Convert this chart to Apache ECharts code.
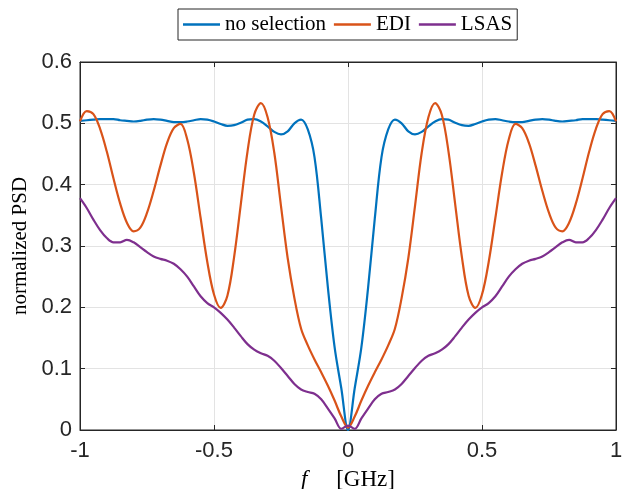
<!DOCTYPE html>
<html>
<head>
<meta charset="utf-8">
<script src="https://cdn.jsdelivr.net/npm/echarts@6/dist/echarts.min.js"></script>
<style>html,body{margin:0;padding:0;background:#fff}#c{width:636px;height:489px}</style>
</head>
<body>
<div id="c"></div>
<script>
const freq = [-1,-0.975,-0.95,-0.925,-0.9,-0.875,-0.85,-0.825,-0.8,-0.775,-0.75,-0.725,-0.7,-0.675,-0.65,-0.625,-0.6,-0.575,-0.55,-0.525,-0.5,-0.475,-0.45,-0.425,-0.4,-0.375,-0.35,-0.325,-0.3,-0.275,-0.25,-0.225,-0.2,-0.175,-0.15,-0.125,-0.1,-0.075,-0.05,-0.025,0,
0.025,0.05,0.075,0.1,0.125,0.15,0.175,0.2,0.225,0.25,0.275,0.3,0.325,0.35,0.375,0.4,0.425,0.45,0.475,0.5,0.525,0.55,0.575,0.6,0.625,0.65,0.675,0.7,0.725,0.75,0.775,0.8,0.825,0.85,0.875,0.9,0.925,0.95,0.975,1];

const noSelection = [0.504,0.505,0.506,0.507,0.507,0.507,0.505,0.504,0.503,0.504,0.506,0.507,0.506,0.504,0.502,0.502,0.503,0.505,0.507,0.506,0.503,0.499,0.496,0.497,0.501,0.506,0.507,0.503,0.495,0.486,0.482,0.487,0.500,0.506,0.490,0.445,0.345,0.232,0.135,0.068,0.000,
0.068,0.135,0.232,0.345,0.445,0.490,0.506,0.500,0.487,0.482,0.486,0.495,0.503,0.507,0.506,0.501,0.497,0.496,0.499,0.503,0.506,0.507,0.505,0.503,0.502,0.502,0.504,0.506,0.507,0.506,0.504,0.503,0.504,0.505,0.507,0.507,0.507,0.506,0.505,0.504];

const edi = [0.503,0.520,0.515,0.491,0.454,0.410,0.369,0.338,0.324,0.330,0.354,0.390,0.431,0.468,0.492,0.499,0.474,0.419,0.346,0.274,0.221,0.199,0.219,0.282,0.368,0.454,0.514,0.533,0.510,0.452,0.365,0.280,0.215,0.165,0.138,0.115,0.094,0.072,0.048,0.022,0.004,
0.022,0.048,0.072,0.094,0.115,0.138,0.165,0.215,0.280,0.365,0.452,0.510,0.533,0.514,0.454,0.368,0.282,0.219,0.199,0.221,0.274,0.346,0.419,0.474,0.499,0.492,0.468,0.431,0.390,0.354,0.330,0.324,0.338,0.369,0.410,0.454,0.491,0.515,0.520,0.503];

const lsas = [0.378,0.362,0.343,0.326,0.313,0.306,0.306,0.310,0.306,0.298,0.290,0.283,0.279,0.276,0.271,0.262,0.250,0.234,0.218,0.207,0.200,0.191,0.180,0.167,0.153,0.140,0.131,0.125,0.121,0.113,0.101,0.088,0.075,0.066,0.062,0.059,0.050,0.035,0.019,0.002,0.007,
0.002,0.019,0.035,0.050,0.059,0.062,0.066,0.075,0.088,0.101,0.113,0.121,0.125,0.131,0.140,0.153,0.167,0.180,0.191,0.200,0.207,0.218,0.234,0.250,0.262,0.271,0.276,0.279,0.283,0.290,0.298,0.306,0.310,0.306,0.306,0.313,0.326,0.343,0.362,0.378];

const seriesNames = ['no selection','EDI','LSAS'];
const xTicks = [-1,-0.5,0,0.5,1];
const yTicks = [0,0.1,0.2,0.3,0.4,0.5,0.6];

const pairs = ys => freq.map((f,i)=>[f,ys[i]]);
const colors = ['#0072BD','#D95319','#7E2F8E'];
const axisColor = '#262626';
const labelFont = {fontFamily:'Liberation Sans, Arial, sans-serif', fontSize:22, color:axisColor};

const chart = echarts.init(document.getElementById('c'), null, {renderer:'canvas'});
chart.setOption({
  backgroundColor:'#fff',
  animation:false,
  color:colors,
  legend:{
    top:9, left:178,
    data:seriesNames,
    icon:'rect', itemWidth:37, itemHeight:2.5, itemGap:8,
    padding:[5,5,5,5],
    borderColor:axisColor, borderWidth:1, backgroundColor:'#fff',
    textStyle:{fontFamily:'Liberation Serif, Times New Roman, serif', fontSize:21, color:'#000'}
  },
  grid:{left:80, right:20, top:62, bottom:59, show:true, borderColor:axisColor, borderWidth:1, backgroundColor:'#fff', containLabel:false, outerBoundsMode:'none'},
  xAxis:[{
    type:'value', min:-1, max:1, interval:0.5,
    axisLine:{show:true, onZero:false, lineStyle:{color:axisColor}},
    axisTick:{show:true, inside:true, length:5, lineStyle:{color:axisColor}},
    axisLabel:Object.assign({margin:10, formatter:v=>String(v)}, labelFont),
    splitLine:{show:true, lineStyle:{color:'#e3e3e3', width:1}},
    name:'{i|f}     [GHz]', nameLocation:'middle', nameGap:38,
    nameTextStyle:{fontFamily:'Liberation Serif, serif', fontSize:23, color:'#000',
      rich:{i:{fontFamily:'Liberation Serif, serif', fontStyle:'italic', fontSize:23, color:'#000'}}}
  },{
    type:'value', min:-1, max:1, interval:0.5, position:'top',
    axisLine:{show:true, onZero:false, lineStyle:{color:axisColor}},
    axisTick:{show:true, inside:true, length:5, lineStyle:{color:axisColor}},
    axisLabel:{show:false}, splitLine:{show:false}
  }],
  yAxis:[{
    type:'value', min:0, max:0.6, interval:0.1,
    axisLine:{show:true, onZero:false, lineStyle:{color:axisColor}},
    axisTick:{show:true, inside:true, length:5, lineStyle:{color:axisColor}},
    axisLabel:Object.assign({margin:8, formatter:v=>String(+v.toFixed(1))}, labelFont),
    splitLine:{show:true, lineStyle:{color:'#e3e3e3', width:1}},
    name:'normalized PSD', nameLocation:'middle', nameGap:46, nameRotate:90,
    nameTextStyle:{fontFamily:'Liberation Serif, serif', fontSize:21, color:'#000'}
  },{
    type:'value', min:0, max:0.6, interval:0.1, position:'right',
    axisLine:{show:true, onZero:false, lineStyle:{color:axisColor}},
    axisTick:{show:true, inside:true, length:5, lineStyle:{color:axisColor}},
    axisLabel:{show:false}, splitLine:{show:false}
  }],
  series:[noSelection, edi, lsas].map((ys,k)=>({
    name:seriesNames[k], type:'line', data:pairs(ys), smooth:0.35,
    showSymbol:false, symbol:'none', clip:true,
    lineStyle:{width:2.2, color:colors[k]}, itemStyle:{color:colors[k]}
  }))
});
</script>
</body>
</html>
